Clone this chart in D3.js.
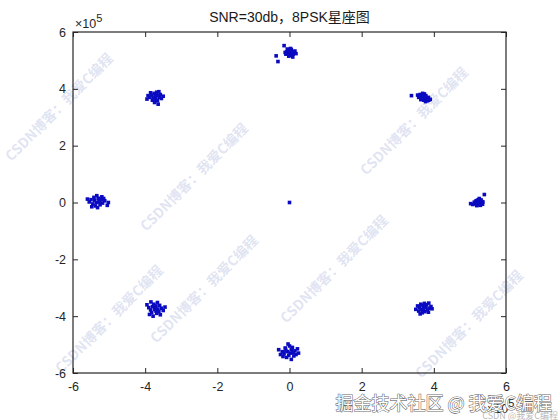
<!DOCTYPE html>
<html><head><meta charset="utf-8">
<script src="https://cdn.jsdelivr.net/npm/d3@7"></script>
<style>html,body{margin:0;padding:0;background:#fff;}svg{display:block;}</style>
</head><body>
<svg id="chart" width="560" height="420"></svg>
<script>
// Data in units of 1e5
const titleText = "SNR=30db，8PSK星座图";
const xTicks = [-6, -4, -2, 0, 2, 4, 6];
const yTicks = [-6, -4, -2, 0, 2, 4, 6];
const exponentLabel = "5";

const s0 = [[5.25,0.02],[5.22,-0.04],[5.28,0.05],[5.30,-0.02],[5.18,0.06],[5.26,-0.08],[5.20,0.00],[5.33,0.03],[5.24,0.10],[5.15,-0.05],[5.29,-0.10],[5.21,0.08],[5.27,-0.01],[5.35,-0.06],[5.12,0.01],[5.19,-0.11],[5.31,0.09],[5.23,-0.06],[5.08,-0.07],[5.02,-0.04],[5.40,0.28],[5.26,0.14],[5.36,0.02],[5.16,0.04]];
const s1 = [[3.70,3.72],[3.75,3.68],[3.66,3.75],[3.80,3.65],[3.72,3.60],[3.62,3.80],[3.78,3.76],[3.68,3.66],[3.85,3.70],[3.74,3.82],[3.58,3.70],[3.82,3.58],[3.71,3.71],[3.64,3.62],[3.90,3.63],[3.77,3.55],[3.69,3.84],[3.60,3.74],[3.38,3.76],[3.55,3.78],[3.86,3.60],[3.73,3.64]];
const s2 = [[0.02,5.28],[-0.05,5.25],[0.08,5.30],[0.00,5.20],[-0.03,5.35],[0.10,5.22],[0.05,5.38],[-0.08,5.30],[0.13,5.27],[-0.02,5.15],[0.06,5.18],[0.15,5.33],[-0.10,5.22],[0.03,5.42],[-0.37,5.16],[-0.32,4.96],[-0.15,5.52],[0.09,5.12],[-0.06,5.40],[0.18,5.24],[0.01,5.32],[-0.12,5.28]];
const s3 = [[-3.72,3.72],[-3.78,3.68],[-3.65,3.76],[-3.82,3.78],[-3.70,3.62],[-3.60,3.70],[-3.88,3.70],[-3.75,3.84],[-3.66,3.58],[-3.80,3.60],[-3.58,3.80],[-3.92,3.76],[-3.68,3.88],[-3.74,3.52],[-3.55,3.66],[-3.85,3.86],[-3.62,3.90],[-3.95,3.64],[-3.71,3.75],[-3.77,3.65],[-3.50,3.74],[-3.64,3.46]];
const s4 = [[-5.28,0.05],[-5.35,0.00],[-5.22,0.10],[-5.40,0.08],[-5.18,-0.02],[-5.30,0.15],[-5.45,-0.05],[-5.25,-0.08],[-5.12,0.06],[-5.38,-0.12],[-5.50,0.10],[-5.20,0.20],[-5.05,-0.10],[-5.32,-0.18],[-5.55,0.02],[-5.15,0.14],[-5.42,0.18],[-5.26,0.02],[-5.02,0.00],[-5.48,-0.15],[-5.60,0.12],[-5.34,0.24]];
const s5 = [[-3.72,-3.70],[-3.80,-3.66],[-3.65,-3.75],[-3.70,-3.82],[-3.85,-3.78],[-3.60,-3.62],[-3.76,-3.58],[-3.68,-3.90],[-3.90,-3.70],[-3.55,-3.72],[-3.82,-3.88],[-3.62,-3.84],[-3.74,-3.76],[-3.95,-3.60],[-3.50,-3.80],[-3.78,-4.00],[-3.66,-3.52],[-3.88,-3.94],[-3.58,-3.95],[-3.70,-3.64],[-3.45,-3.68],[-3.84,-3.50]];
const s6 = [[-0.05,-5.25],[0.02,-5.30],[-0.10,-5.20],[0.05,-5.18],[-0.15,-5.32],[0.10,-5.28],[-0.02,-5.38],[-0.20,-5.25],[0.08,-5.10],[-0.08,-5.45],[0.15,-5.22],[-0.25,-5.35],[0.00,-5.05],[0.12,-5.40],[-0.12,-5.12],[0.22,-5.15],[0.18,-5.35],[-0.30,-5.18],[0.05,-5.52],[-0.04,-4.98],[0.25,-5.30],[-0.18,-5.42]];
const s7 = [[3.72,-3.70],[3.78,-3.66],[3.66,-3.76],[3.82,-3.78],[3.70,-3.62],[3.60,-3.70],[3.88,-3.72],[3.75,-3.84],[3.64,-3.58],[3.80,-3.60],[3.58,-3.82],[3.92,-3.66],[3.68,-3.88],[3.74,-3.55],[3.55,-3.64],[3.85,-3.86],[3.62,-3.92],[3.95,-3.74],[3.71,-3.75],[3.77,-3.68],[3.50,-3.76],[3.86,-3.54]];
const sCenter = [[0,0]];

const watermarkText = "CSDN博客：我爱C编程";
const footerText = "掘金技术社区 @ 我爱C编程";
const footerSmall = "CSDN @我爱C编程";

const svg = d3.select("#chart");
const L = 73, R = 506, T = 32, B = 373;
const x = d3.scaleLinear().domain([-6, 6]).range([L, R]);
const y = d3.scaleLinear().domain([-6, 6]).range([B, T]);
const axisColor = "#262626";
const font = "Liberation Sans, Arial, Helvetica, sans-serif";

// watermarks (behind)
const wm = [[60,108],[195,178],[335,270],[205,290],[470,325],[415,122],[110,320]];
svg.append("g").selectAll("text").data(wm).join("text")
  .attr("transform", d => `translate(${d[0]},${d[1]}) rotate(-45)`)
  .attr("text-anchor", "middle").attr("dominant-baseline", "middle")
  .attr("font-family", "Noto Sans CJK SC, sans-serif").attr("font-size", 14).attr("font-weight", "bold")
  .attr("fill", "rgba(150,160,210,0.3)")
  .text(watermarkText);

// axes
const gx = svg.append("g").attr("transform", `translate(0,${B})`)
  .call(d3.axisBottom(x).tickValues(xTicks).tickSizeInner(-5).tickSizeOuter(0).tickPadding(9).tickFormat(d => String(d)));
const gxt = svg.append("g").attr("transform", `translate(0,${T})`)
  .call(d3.axisTop(x).tickValues(xTicks).tickSizeInner(-5).tickSizeOuter(0).tickFormat(""));
const gy = svg.append("g").attr("transform", `translate(${L},0)`)
  .call(d3.axisLeft(y).tickValues(yTicks).tickSizeInner(-5).tickSizeOuter(0).tickPadding(7).tickFormat(d => String(d)));
const gyr = svg.append("g").attr("transform", `translate(${R},0)`)
  .call(d3.axisRight(y).tickValues(yTicks).tickSizeInner(-5).tickSizeOuter(0).tickFormat(""));
[gx, gxt, gy, gyr].forEach(g => {
  g.select(".domain").remove();
  g.selectAll(".tick line").attr("stroke", axisColor);
  g.selectAll(".tick text").attr("fill", axisColor).attr("font-family", font).attr("font-size", 12.5);
});

svg.append("rect").attr("x", L).attr("y", T).attr("width", R - L).attr("height", B - T)
  .attr("fill", "none").attr("stroke", axisColor).attr("stroke-width", 1.2);

// exponent labels
function expo(xp, yp) {
  const t = svg.append("text").attr("x", xp).attr("y", yp).attr("fill", axisColor)
    .attr("font-family", font).attr("font-size", 12.5);
  t.append("tspan").text("×10");
  t.append("tspan").attr("dy", -6).attr("font-size", 11).text(exponentLabel);
}
expo(75, 28);
expo(487, 413);

// points
const allSeries = [s0, s1, s2, s3, s4, s5, s6, s7, sCenter];
const pts = allSeries.flat();
const ms = 3.6;
svg.append("g").selectAll("rect").data(pts).join("rect")
  .attr("x", d => x(d[0]) - ms / 2).attr("y", d => y(d[1]) - ms / 2)
  .attr("width", ms).attr("height", ms)
  .attr("fill", "#0a0ac0");

// title
svg.append("text").attr("x", (L + R) / 2).attr("y", 22).attr("text-anchor", "middle")
  .attr("fill", "#1a1a1a").attr("font-family", "Liberation Sans, Noto Sans CJK SC, sans-serif").attr("font-size", 14)
  .text(titleText);

// footer watermark
svg.append("text").attr("x", 552).attr("y", 410).attr("text-anchor", "end")
  .attr("font-family", "Noto Sans CJK SC, sans-serif").attr("font-size", 18)
  .attr("fill", "#ffffff").attr("stroke", "#6a6a6a").attr("stroke-width", 1.1).attr("paint-order", "stroke")
  .text(footerText);
svg.append("text").attr("x", 558).attr("y", 419).attr("text-anchor", "end")
  .attr("font-family", "Noto Sans CJK SC, sans-serif").attr("font-size", 9)
  .attr("fill", "rgba(150,150,150,0.7)")
  .text(footerSmall);
</script>
</body></html>
